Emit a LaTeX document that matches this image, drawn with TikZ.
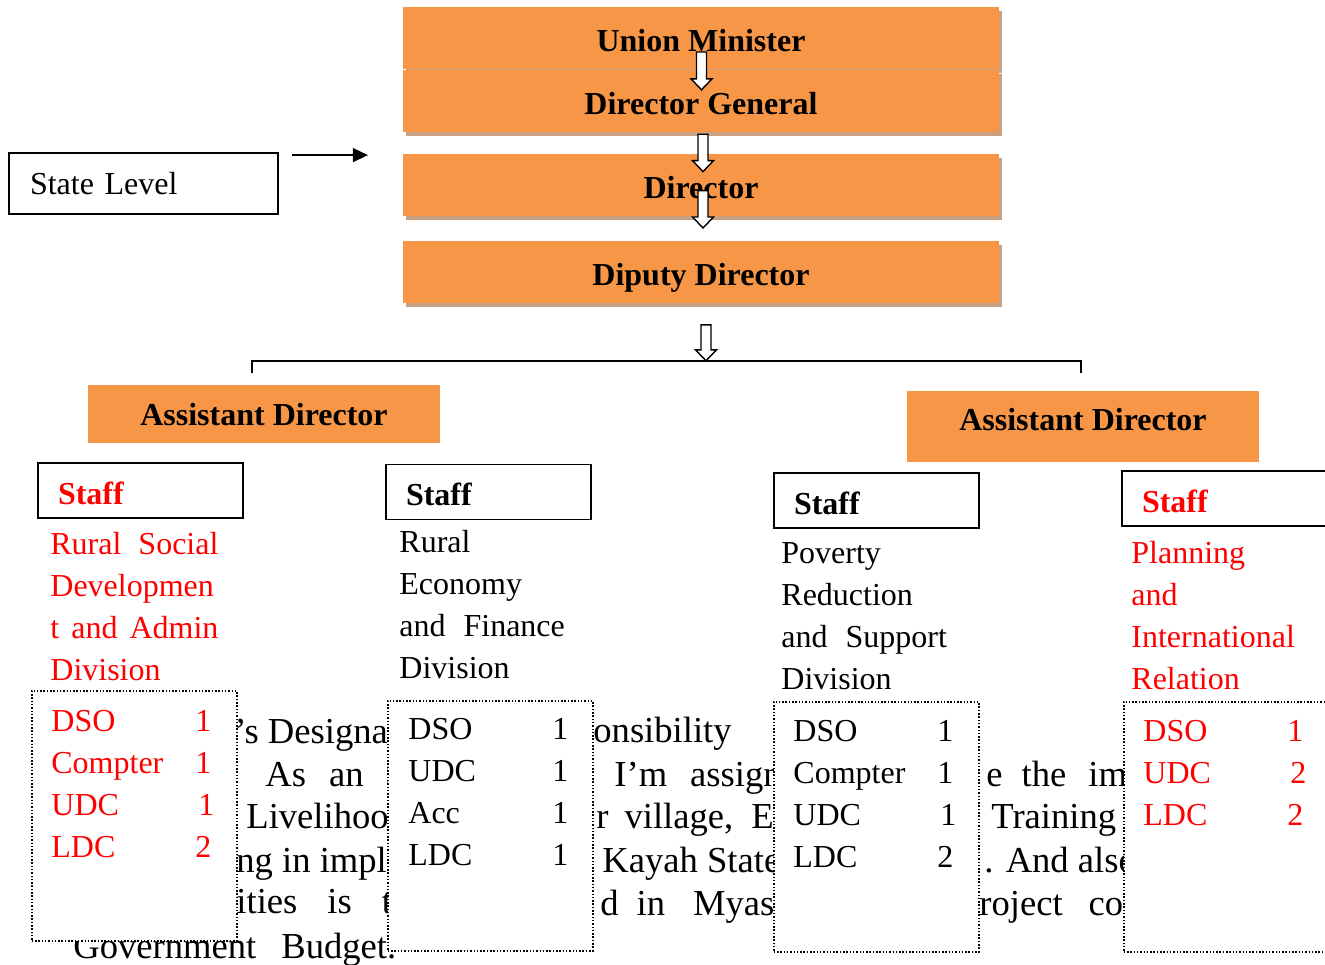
\documentclass[tikz,border=0pt]{standalone}
\usepackage{fontspec}
\setmainfont{Liberation Serif}
\usetikzlibrary{positioning,calc,shadows,arrows.meta}
\definecolor{lvlorange}{HTML}{F79646}
\definecolor{lvlshadow}{HTML}{C8A082}
\definecolor{divred}{HTML}{FF0000}
\newcommand{\txt}{\fontsize{16}{21}\selectfont}
\newcommand{\bgtxt}{\fontsize{18.3}{21.5}\selectfont}
\newcommand{\cnt}[2]{\makebox[72pt][l]{#1}#2}
% hollow arrow pointing down, from #1 to tip #2
\newcommand{\hollowdown}[2]{%
  \draw[ha] ($(#1)+(-5,0)$) -- ($(#2)+(-5,-11)$) -- ($(#2)+(-10.5,-11)$) -- (#2)
    -- ($(#2)+(10.5,-11)$) -- ($(#2)+(5,-11)$) -- ($(#1)+(5,0)$) -- cycle;}
\tikzset{
  lvl/.style={rectangle, minimum width=298pt, minimum height=31pt, inner sep=0pt, text height=13.5pt, text depth=0pt, fill=lvlorange, font=\txt\bfseries, general shadow={fill=lvlshadow, shadow xshift=1.5pt, shadow yshift=-2pt}},
  ad/.style={rectangle, minimum width=176pt, inner sep=0pt, text depth=0pt, fill=lvlorange, font=\txt\bfseries},
  sl/.style={rectangle, draw=black, line width=0.9pt, text width=113.5pt, inner xsep=10.5pt, inner ysep=0pt, minimum height=30.5pt, align=left, font=\txt},
  stf/.style={rectangle, draw=black, line width=0.9pt, text width=82.5pt, inner xsep=10pt, inner ysep=0pt, minimum height=27.5pt, text height=13.5pt, text depth=0pt, align=left, font=\txt\bfseries},
  dvs/.style={anchor=base west, inner sep=0pt, align=left, font=\txt},
  dbox/.style={rectangle, draw=black, line width=0.75pt, dash pattern=on 0.75pt off 0.9pt, fill=white, minimum width=102.5pt, minimum height=125pt, inner sep=0pt, anchor=north west},
  lst/.style={anchor=base west, inner sep=0pt, align=left, font=\txt},
  bg/.style={anchor=base west, inner sep=0pt, font=\bgtxt},
  ha/.style={draw=black, fill=white, line width=0.7pt, line join=miter},
  lnk/.style={line width=0.8pt},
}
\begin{document}
\begin{tikzpicture}[x=0.5pt, y=-0.5pt]
  \useasboundingbox (0,0) rectangle (1325,964);
  % page text behind the boxes
  \node[bg] (t1a) at (234,743) {’s Designa};
  \node[bg] (t1b) at (593,742) {onsibility};
  \node[bg] (t2a) at (265,786) {As\hspace{11.5pt}an\hspace{10.75pt}S};
  \node[bg] (t2b) at (614,786) {I'm\hspace{11.5pt}assign};
  \node[bg] (t2c) at (986,786) {e\hspace{9.5pt}the\hspace{11pt}im};
  \node[bg] (t3a) at (246,828) {Livelihoo};
  \node[bg] (t3b) at (596,828) {r\hspace{8pt}village,\hspace{9pt}E};
  \node[bg] (t3c) at (991,828) {Training};
  \node[bg] (t4a) at (236,872) {ng in imple};
  \node[bg] (t4b) at (602,872) {Kayah State};
  \node[bg] (t4c) at (984,872) {. And also};
  \node[bg] (t5a) at (236,913) {ities\hspace{15pt}is\hspace{15pt}t};
  \node[bg] (t5b) at (600,915) {d\hspace{9pt}in\hspace{14pt}Myas};
  \node[bg] (t5c) at (979,915) {roject\hspace{13pt}co};
  \node[bg] (t6a) at (73,958) {Government\hspace{12.5pt}Budget.};
  %
  \node[lvl] (um) at (701,38) {Union Minister};
  \node[lvl, below=0pt of um] (dg) {Director General};
  \node[lvl, below=10.5pt of dg] (dir) {Director};
  \node[lvl, below=12.5pt of dir] (dd) {Diputy Director};
  \coordinate (a1s) at ($(um.center)+(0.5,14)$);
  \coordinate (a1e) at ($(dg.center)+(0.5,-11)$);
  \coordinate (a2s) at ($(dg.south)+(2,2)$);
  \coordinate (a2e) at ($(dir.center)+(2,-13)$);
  \coordinate (a3s) at ($(dir.center)+(2,6)$);
  \coordinate (a3e) at ($(dd.north)+(2,-13)$);
  \coordinate (a4s) at ($(dd.south)+(5,21)$);
  \coordinate (brk) at ($(dd.south)+(5,57)$);
  \coordinate (brl) at (252,373);
  \coordinate (brr) at (1081,373);
  \hollowdown{a1s}{a1e}
  \hollowdown{a2s}{a2e}
  \hollowdown{a3s}{a3e}
  \draw[lnk] (brl) |- (brk) -| (brr);
  \hollowdown{a4s}{brk}
  %
  \node[sl] (state) at (143.5,183.5) {State Level};
  \coordinate (sla) at ($(state.north east)+(13,3)$);
  \coordinate (slb) at ($(sla)+(76,0)$);
  \draw[line width=0.65pt, -{Triangle[length=7.5pt, width=7pt]}] (sla) -- (slb);
  %
  \node[ad, minimum height=29pt, text height=11pt] (adl) at (264,414) {Assistant Director};
  \node[ad, minimum height=35.5pt, text height=3.5pt] (adr) at (1083,426.5) {Assistant Director};
  %
  \node[stf, text=divred] (s1) at (140.5,490.5) {Staff};
  \node[stf] (s2) at (488.5,492) {Staff};
  \node[stf] (s3) at (876.5,500.5) {Staff};
  \node[stf, text=divred] (s4) at (1224.5,498.5) {Staff};
  % multi-line nodes sit on the baseline of their last line
  \node[dvs, text=divred] (d1) at (50,680) {Rural\hspace{8.5pt}Social\\Developmen\\t\hspace{6pt}and\hspace{6pt}Admin\\Division};
  \node[dvs] (d2) at (399,678) {Rural\\Economy\\and\hspace{9pt}Finance\\Division};
  \node[dvs] (d3) at (781,689) {Poverty\\Reduction\\and\hspace{9pt}Support\\Division};
  \node[dvs, text=divred] (d4) at (1131,689) {Planning\\and\\International\\Relation};
  %
  \node[dbox] (b1) at (31,690) {};
  \node[dbox] (b2) at (387,700) {};
  \node[dbox] (b3) at (773,701) {};
  \node[dbox] (b4) at (1123,701) {};
  \node[lst, text=divred] (l1) at (51,857) {\cnt{DSO}{1}\\\cnt{Compter}{1}\\\cnt{UDC}{\hspace{1.5pt}1}\\\cnt{LDC}{2}};
  \node[lst] (l2) at (408,865) {\cnt{DSO}{1}\\\cnt{UDC}{1}\\\cnt{Acc}{1}\\\cnt{LDC}{1}};
  \node[lst] (l3) at (793,867) {\cnt{DSO}{1}\\\cnt{Compter}{1}\\\cnt{UDC}{\hspace{1.5pt}1}\\\cnt{LDC}{2}};
  \node[lst, text=divred] (l4) at (1143,825) {\cnt{DSO}{1}\\\cnt{UDC}{\hspace{1.5pt}2}\\\cnt{LDC}{2}};
\end{tikzpicture}
\end{document}
